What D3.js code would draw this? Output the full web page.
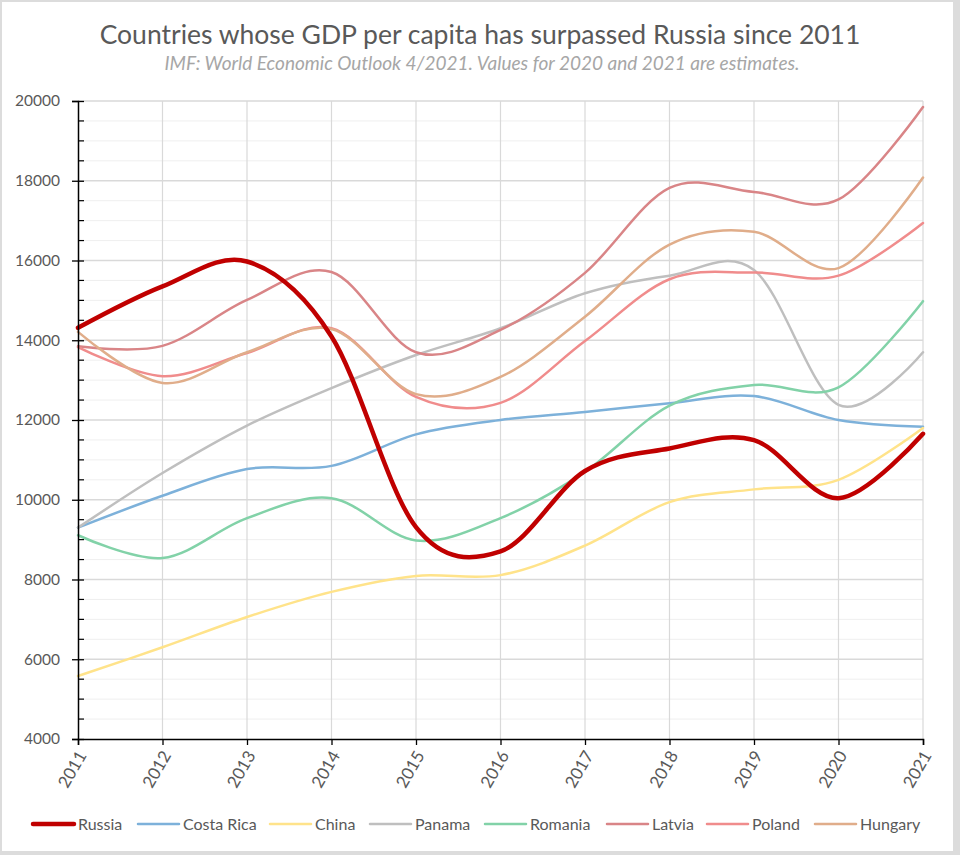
<!DOCTYPE html>
<html>
<head>
<meta charset="utf-8">
<script src="https://cdn.jsdelivr.net/npm/d3@7"></script>
<style>
  html, body { margin: 0; padding: 0; background: #ffffff; }
  svg { display: block; }
  text { font-family: Lato, "Open Sans", sans-serif; }
</style>
</head>
<body>
<svg id="chart" width="960" height="855"></svg>
<script>
// ---- Data ----
const years = [2011, 2012, 2013, 2014, 2015, 2016, 2017, 2018, 2019, 2020, 2021];
const yTicks = [4000, 6000, 8000, 10000, 12000, 14000, 16000, 18000, 20000];
const seriesNames = ["Russia", "Costa Rica", "China", "Panama", "Romania", "Latvia", "Poland", "Hungary"];
const russia    = [14311, 15350, 15975, 14096, 9313, 8705, 10720, 11287, 11497, 10037, 11654];
const costaRica = [9300, 10100, 10770, 10850, 11640, 12000, 12200, 12420, 12600, 12000, 11830];
const china     = [5580, 6300, 7060, 7690, 8090, 8110, 8850, 9940, 10260, 10500, 11800];
const panama    = [9300, 10670, 11860, 12800, 13630, 14300, 15180, 15620, 15760, 12380, 13700];
const romania   = [9110, 8540, 9540, 10040, 8980, 9540, 10700, 12360, 12880, 12820, 14980];
const latvia    = [13850, 13860, 15010, 15710, 13700, 14260, 15690, 17820, 17720, 17530, 19850];
const poland    = [13830, 13100, 13680, 14300, 12580, 12430, 13980, 15530, 15700, 15620, 16940];
const hungary   = [14210, 12930, 13700, 14280, 12650, 13080, 14590, 16400, 16720, 15810, 18080];
const colors    = ["#C00000", "#7DB1DA", "#FFE38A", "#BFBFBF", "#82D2A8", "#D98587", "#F08C8C", "#E0AD8A"];
const widths    = [4.5, 2.5, 2.5, 2.5, 2.5, 2.5, 2.5, 2.5];

const seriesValues = [russia, costaRica, china, panama, romania, latvia, poland, hungary];

// ---- Layout ----
const svg = d3.select("#chart");
const W = 960, H = 855;
const pLeft = 78, pRight = 923, pTop = 101, pBottom = 739;

svg.append("rect").attr("x", 0).attr("y", 0).attr("width", W).attr("height", H).attr("fill", "#DCDCDC");
svg.append("rect").attr("x", 2).attr("y", 2).attr("width", 951).attr("height", 849).attr("fill", "#FFFFFF");

const x = d3.scaleLinear().domain([years[0], years[years.length - 1]]).range([pLeft, pRight]);
const y = d3.scaleLinear().domain([4000, 20000]).range([pBottom, pTop]);

// minor gridlines
const minor = d3.range(4000, 20001, 500).filter(v => v % 2000 !== 0);
svg.append("g").selectAll("line").data(minor).join("line")
  .attr("x1", pLeft).attr("x2", pRight)
  .attr("y1", d => y(d)).attr("y2", d => y(d))
  .attr("stroke", "#EFEFEF").attr("stroke-width", 1);

// major gridlines
svg.append("g").selectAll("line").data(yTicks.filter(v => v !== 4000)).join("line")
  .attr("x1", pLeft).attr("x2", pRight)
  .attr("y1", d => y(d)).attr("y2", d => y(d))
  .attr("stroke", "#D9D9D9").attr("stroke-width", 1.5);

// vertical gridlines
svg.append("g").selectAll("line").data(years.slice(1)).join("line")
  .attr("x1", d => x(d)).attr("x2", d => x(d))
  .attr("y1", pTop).attr("y2", pBottom)
  .attr("stroke", "#D9D9D9").attr("stroke-width", 1.2);

// Title
svg.append("text").attr("x", 480).attr("y", 44).attr("text-anchor", "middle")
  .attr("fill", "#595959").attr("font-size", 26.5)
  .text("Countries whose GDP per capita has surpassed Russia since 2011");
svg.append("text").attr("x", 482).attr("y", 70).attr("text-anchor", "middle")
  .attr("fill", "#A6A6A6").attr("font-size", 19).attr("font-style", "italic")
  .text("IMF: World Economic Outlook 4/2021. Values for 2020 and 2021 are estimates.");

// Lines
const line = d3.line().x((d, i) => x(years[i])).y(d => y(d)).curve(d3.curveCardinal.tension(0));
const order = [1, 2, 3, 4, 5, 6, 7, 0];
svg.append("g").selectAll("path").data(order).join("path")
  .attr("d", k => line(seriesValues[k]))
  .attr("fill", "none")
  .attr("stroke", k => colors[k])
  .attr("stroke-width", k => widths[k])
  .attr("stroke-linejoin", "round")
  .attr("stroke-linecap", "round");

// Y axis
const yAxis = d3.axisLeft(y).tickValues(yTicks).tickSize(6).tickPadding(12).tickFormat(d3.format("d"));
const yg = svg.append("g").attr("transform", `translate(${pLeft},0)`).call(yAxis);
yg.select(".domain").attr("stroke", "#000").attr("stroke-width", 1.5);
yg.selectAll(".tick line").attr("stroke", "#000").attr("stroke-width", 1.3).attr("x2", -6).attr("x1", 6);
yg.selectAll(".tick text").attr("fill", "#595959").attr("font-size", 15.5)
  .style("font-family", "Lato, 'Open Sans', sans-serif");
// minor ticks (inside)
svg.append("g").selectAll("line").data(minor).join("line")
  .attr("x1", pLeft).attr("x2", pLeft + 6)
  .attr("y1", d => y(d)).attr("y2", d => y(d))
  .attr("stroke", "#000").attr("stroke-width", 1.2);

// X axis
const xAxis = d3.axisBottom(x).tickValues(years).tickSize(6).tickFormat(d3.format("d"));
const xg = svg.append("g").attr("transform", `translate(0,${pBottom})`).call(xAxis);
xg.select(".domain").attr("stroke", "#000").attr("stroke-width", 1.5);
xg.selectAll(".tick line").attr("stroke", "#000").attr("stroke-width", 1.3);
xg.selectAll(".tick text")
  .attr("fill", "#595959").attr("font-size", 17)
  .style("font-family", "Lato, 'Open Sans', sans-serif")
  .attr("text-anchor", "end")
  .attr("dy", null)
  .attr("y", 0)
  .attr("transform", "translate(5,14) rotate(-60)")
  .attr("dominant-baseline", "middle");

// Legend
const legendX = [33, 138, 270, 370, 485, 607, 707, 815];
const lg = svg.append("g");
seriesNames.forEach((name, i) => {
  const g = lg.append("g").attr("transform", `translate(${legendX[i]},824)`);
  g.append("line").attr("x1", 0).attr("x2", 41).attr("y1", 0).attr("y2", 0)
    .attr("stroke", colors[i]).attr("stroke-width", widths[i]).attr("stroke-linecap", "round");
  g.append("text").attr("x", 45).attr("y", 0).attr("dy", "0.35em")
    .attr("fill", "#595959").attr("font-size", 16).text(name);
});
</script>
</body>
</html>
